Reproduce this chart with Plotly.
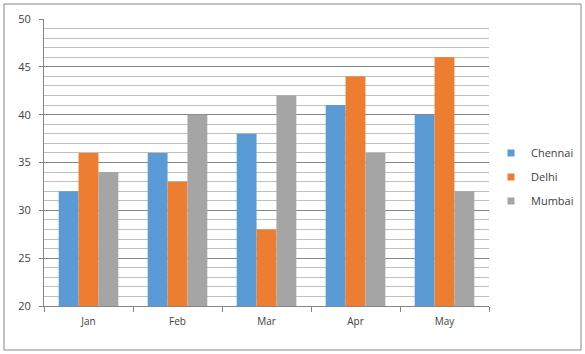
import plotly.graph_objects as go

months = ["Jan", "Feb", "Mar", "Apr", "May"]
chennai = [32, 36, 38, 41, 40]
delhi = [36, 33, 28, 44, 46]
mumbai = [34, 40, 42, 36, 32]

series = [("Chennai", chennai, "#5b9bd5"), ("Delhi", delhi, "#ed7d31"), ("Mumbai", mumbai, "#a5a5a5")]

fig = go.Figure()
for name, vals, col in series:
    fig.add_trace(go.Bar(x=months, y=vals, name=name, marker=dict(color=col, line=dict(width=0)),
                         showlegend=False))
for name, vals, col in series:
    fig.add_trace(go.Scatter(x=[None], y=[None], mode="markers", name=name, legendgroup=name,
                             marker=dict(symbol="square", size=7, color=col), showlegend=True))

L, R, T, B = 44, 489, 19, 306
W, H = 585, 354
pw, ph = R - L, B - T

fig.update_layout(
    width=W, height=H,
    margin=dict(l=L, r=W - R, t=T, b=H - B, autoexpand=False),
    paper_bgcolor="white", plot_bgcolor="white",
    barmode="group", bargap=0.33, bargroupgap=0,
    font=dict(family="Open Sans, Liberation Sans, sans-serif", size=11, color="#404040"),
    showlegend=True,
    legend=dict(x=(491 - L) / pw, y=(B - 177) / ph, xanchor="left", yanchor="middle",
                traceorder="grouped", tracegroupgap=5, font=dict(size=11, color="#404040"),
                itemwidth=30),
    xaxis=dict(showline=True, linecolor="#868686", linewidth=1, ticks="outside", tickson="boundaries",
               ticklen=5, tickcolor="#868686", showgrid=False, tickfont=dict(size=10, color="#404040"),
               ticklabelstandoff=6, fixedrange=True),
    yaxis=dict(range=[20, 50], dtick=5, showline=True, linecolor="#868686", linewidth=1,
               ticks="outside", ticklen=4, tickcolor="#868686",
               showgrid=True, gridcolor="#868686", gridwidth=1, zeroline=False,
               tickfont=dict(size=11, color="#404040"), ticklabelstandoff=6,
               minor=dict(dtick=1, showgrid=True, gridcolor="#bfbfbf", gridwidth=1, ticks="")),
    shapes=[dict(type="rect", xref="paper", yref="paper",
                 x0=(4 - L) / pw, x1=(581 - L) / pw, y0=(B - 350) / ph, y1=(B - 4) / ph,
                 line=dict(color="#868686", width=1), fillcolor="rgba(0,0,0,0)", layer="below")],
)

fig.write_html("out.html")
